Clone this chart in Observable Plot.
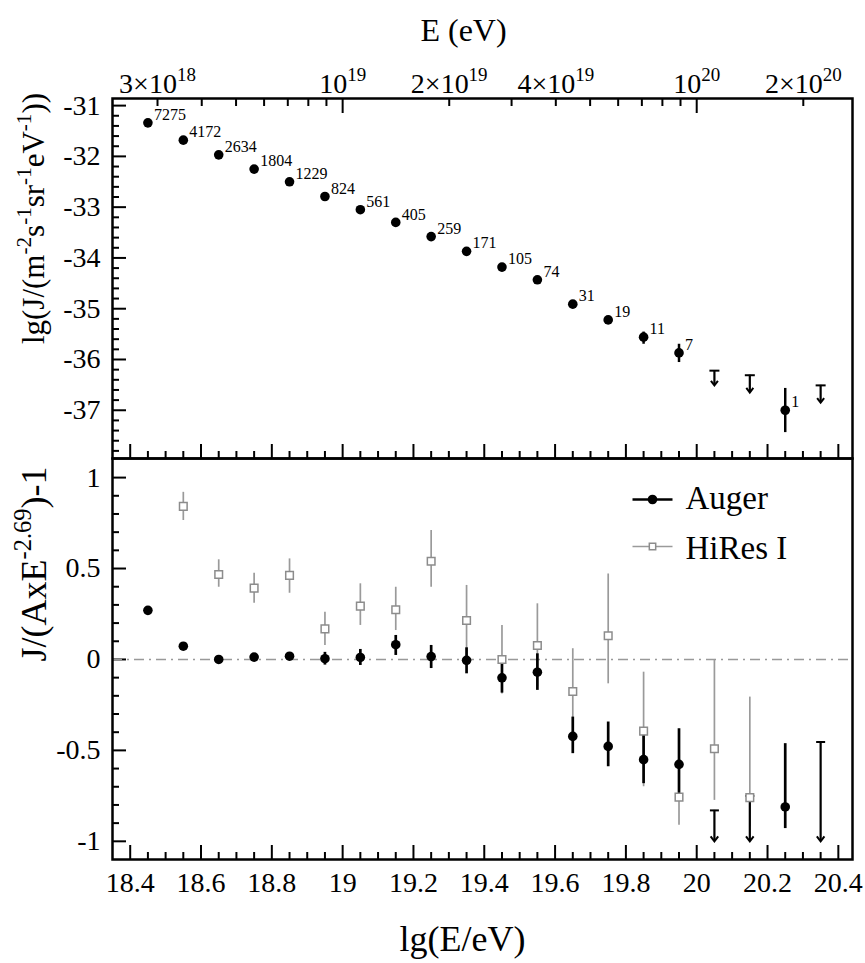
<!DOCTYPE html>
<html><head><meta charset="utf-8">
<script src="https://cdn.jsdelivr.net/npm/d3@7"></script>
<script src="https://cdn.jsdelivr.net/npm/@observablehq/plot@0.6"></script>
<style>
body{margin:0;background:#fff;}
#chart{width:865px;height:963px;overflow:hidden;}
#chart svg{display:block;}
</style></head><body><div id="chart"></div>
<script>
const FONT = '"Liberation Serif", serif';

// ---------- data ----------
const lgEnergy = [18.45,18.55,18.65,18.75,18.85,18.95,19.05,19.15,19.25,19.35,19.45,19.55,19.65,19.75,19.85,19.95,20.05,20.15,20.25,20.35];

// top panel: lg J
const augerFluxLg = [-31.34,-31.68,-31.97,-32.25,-32.50,-32.79,-33.05,-33.30,-33.58,-33.87,-34.18,-34.43,-34.91,-35.22,-35.56,-35.87,null,null,-37.00,null];
const augerFluxLo = [null,null,null,null,null,null,null,null,null,null,null,null,null,null,-35.70,-36.06,null,null,-37.44,null];
const augerFluxHi = [null,null,null,null,null,null,null,null,null,null,null,null,null,null,-35.46,-35.70,null,null,-36.57,null];
const augerCounts = ["7275","4172","2634","1804","1229","824","561","405","259","171","105","74","31","19","11","7",null,null,"1",null];
const fluxLimitCap = [null,null,null,null,null,null,null,null,null,null,null,null,null,null,null,null,-36.22,-36.31,null,-36.51];
const fluxLimitTip = [null,null,null,null,null,null,null,null,null,null,null,null,null,null,null,null,-36.51,-36.65,null,-36.85];

// bottom panel: J/(A E^-2.69) - 1
const augerRatio   = [0.27,0.073,0.0,0.013,0.018,0.004,0.011,0.081,0.016,-0.005,-0.101,-0.07,-0.423,-0.478,-0.551,-0.577,null,null,-0.811,null];
const augerRatioLo = [null,null,null,null,null,-0.031,-0.033,0.022,-0.05,-0.079,-0.185,-0.17,-0.518,-0.59,-0.683,-0.738,null,null,-0.93,null];
const augerRatioHi = [null,null,null,null,null,0.039,0.055,0.132,0.077,0.064,-0.015,0.031,-0.317,-0.344,-0.38,-0.381,null,null,-0.463,null];
const augerLimitCap = [null,null,null,null,null,null,null,null,null,null,null,null,null,null,null,null,-0.83,-0.75,null,-0.454];
const augerLimitTip = [null,null,null,null,null,null,null,null,null,null,null,null,null,null,null,null,-1.0,-1.0,null,-1.0];
const hiresRatio   = [null,0.842,0.467,0.392,0.462,0.168,0.293,0.273,0.54,0.214,0.0,0.077,-0.176,0.13,-0.394,-0.757,-0.491,-0.76,null,null];
const hiresRatioLo = [null,0.764,0.397,0.309,0.364,0.077,0.187,0.159,0.397,-0.005,-0.19,-0.15,-0.41,-0.134,-0.70,-0.912,-0.775,-0.92,null,null];
const hiresRatioHi = [null,0.919,0.548,0.474,0.553,0.26,0.416,0.397,0.709,0.407,0.187,0.306,0.059,0.47,-0.07,-0.6,0.0,-0.207,null,null];

// axes / ticks
const lgTicksMajor = [18.4,18.6,18.8,19,19.2,19.4,19.6,19.8,20,20.2,20.4];
const lgTicksMinor = d3.range(18.45, 20.42, 0.05).map(v => +v.toFixed(2)).filter(v => !lgTicksMajor.some(m => Math.abs(m - v) < 1e-6));
const energyLabelValues = [3e18, 1e19, 2e19, 4e19, 1e20, 2e20];
const energyLabels = ["3×10^{18}", "10^{19}", "2×10^{19}", "4×10^{19}", "10^{20}", "2×10^{20}"];
const energyMajor = [1e19, 1e20];
const energyMinor = [3e18,4e18,5e18,6e18,7e18,8e18,9e18,2e19,3e19,4e19,5e19,6e19,7e19,8e19,9e19,2e20];
const fluxTicksMajor = [-37,-36,-35,-34,-33,-32,-31];
const fluxTicksMinor = d3.range(-37.8, -30.95, 0.2).map(v => +v.toFixed(1)).filter(v => !Number.isInteger(v));
const ratioTicksMajor = [-1,-0.5,0,0.5,1];
const ratioTicksMinor = d3.range(-1.0, 1.01, 0.1).map(v => +v.toFixed(1)).filter(v => !ratioTicksMajor.includes(v));

const titleTop = "E (eV)";
const titleBottom = "lg(E/eV)";
const yTitleTop = "lg(J/(m^{-2}s^{-1}sr^{-1}eV^{-1}))";
const yTitleBottom = "J/(AxE^{-2.69})-1";
const legendNames = ["Auger", "HiRes I"];

// ---------- rows ----------
const idx = d3.range(lgEnergy.length);
const fluxPts = idx.filter(i => augerFluxLg[i] != null).map(i => ({x: lgEnergy[i], y: augerFluxLg[i], n: augerCounts[i]}));
const fluxErr = idx.filter(i => augerFluxLo[i] != null).map(i => ({x: lgEnergy[i], lo: augerFluxLo[i], hi: augerFluxHi[i]}));
const fluxLim = idx.filter(i => fluxLimitCap[i] != null).map(i => ({x: lgEnergy[i], cap: fluxLimitCap[i], tip: fluxLimitTip[i]}));
const augPts = idx.filter(i => augerRatio[i] != null).map(i => ({x: lgEnergy[i], y: augerRatio[i]}));
const augErr = idx.filter(i => augerRatioLo[i] != null).map(i => ({x: lgEnergy[i], lo: augerRatioLo[i], hi: augerRatioHi[i]}));
const augLim = idx.filter(i => augerLimitCap[i] != null).map(i => ({x: lgEnergy[i], cap: augerLimitCap[i], tip: augerLimitTip[i]}));
const hiPts = idx.filter(i => hiresRatio[i] != null).map(i => ({x: lgEnergy[i], y: hiresRatio[i], lo: hiresRatioLo[i], hi: hiresRatioHi[i]}));

// ---------- symbols ----------
const hline = {draw(ctx, size) { const r = Math.sqrt(size / Math.PI); ctx.moveTo(-r, 0); ctx.lineTo(r, 0); }};
const chevron = {draw(ctx, size) { const r = Math.sqrt(size / Math.PI); ctx.moveTo(-r, -r * 1.3); ctx.lineTo(0, 0); ctx.lineTo(r, -r * 1.3); }};

const W = 865, ML = 112, MR = 13;
const xDomain = [18.35, 20.44];
const TICK = 2, MAJ = -14, MIN = -7;
const plotStyle = {fontFamily: FONT, fontSize: "28px", color: "black", background: "white", overflow: "visible"};
const T = {fontFamily: FONT};
const C = {fontFamily: FONT, textAnchor: "middle", lineAnchor: "middle"};

const topPlot = Plot.plot({
  width: W, height: 458, marginTop: 98, marginBottom: 0, marginLeft: ML, marginRight: MR,
  style: plotStyle,
  x: {domain: xDomain, axis: null},
  y: {domain: [-37.95, -30.86], axis: null},
  marks: [
    Plot.axisX(lgTicksMajor, {anchor: "bottom", tickSize: MAJ, fill: "none", strokeWidth: TICK, label: null}),
    Plot.axisX(lgTicksMinor, {anchor: "bottom", tickSize: MIN, fill: "none", strokeWidth: TICK, label: null}),
    Plot.axisX(energyMajor.map(Math.log10), {anchor: "top", tickSize: MAJ, fill: "none", strokeWidth: TICK, label: null}),
    Plot.axisX(energyMinor.map(Math.log10), {anchor: "top", tickSize: MIN, fill: "none", strokeWidth: TICK, label: null}),
    Plot.axisX(energyLabelValues.map(Math.log10), {...T, anchor: "top", tickSize: 0, tickPadding: 6, label: null, fontSize: 28,
      tickFormat: (d) => energyLabels[energyLabelValues.map(Math.log10).indexOf(d)]}),
    Plot.axisY(fluxTicksMajor, {anchor: "left", tickSize: MAJ, fill: "none", strokeWidth: TICK, label: null}),
    Plot.axisY(fluxTicksMinor, {anchor: "left", tickSize: MIN, fill: "none", strokeWidth: TICK, label: null}),
    Plot.axisY(fluxTicksMajor, {...T, anchor: "left", tickSize: 0, tickPadding: 12, label: null, fontSize: 28, tickFormat: d => String(d)}),
    Plot.frame({strokeWidth: 2.5}),
    Plot.ruleX(fluxErr, {x: "x", y1: "lo", y2: "hi", stroke: "black", strokeWidth: 2.5}),
    Plot.ruleX(fluxLim, {x: "x", y1: "cap", y2: "tip", stroke: "black", strokeWidth: 2.2}),
    Plot.dot(fluxLim, {x: "x", y: "cap", symbol: hline, r: 5, stroke: "black", fill: "none", strokeWidth: 2}),
    Plot.dot(fluxLim, {x: "x", y: "tip", symbol: chevron, r: 3.5, stroke: "black", fill: "none", strokeWidth: 2}),
    Plot.dot(fluxPts, {x: "x", y: "y", r: 4.8, fill: "black", stroke: "none"}),
    Plot.text(fluxPts, {...T, x: "x", y: "y", text: "n", dx: 6, dy: -8, textAnchor: "start", fontSize: 16}),
    Plot.text([titleTop], {...C, frameAnchor: "top", text: d => d, dx: -19, dy: -68, fontSize: 32}),
    Plot.text([yTitleTop], {...C, frameAnchor: "left", text: d => d, rotate: -90, dx: -78, dy: -60, fontSize: 31})
  ]
});

const bottomPlot = Plot.plot({
  width: W, height: 505, marginTop: 0, marginBottom: 104, marginLeft: ML, marginRight: MR,
  style: plotStyle,
  x: {domain: xDomain, axis: null},
  y: {domain: [-1.1, 1.105], axis: null},
  marks: [
    Plot.axisX(lgTicksMajor, {anchor: "bottom", tickSize: MAJ, fill: "none", strokeWidth: TICK, label: null}),
    Plot.axisX(lgTicksMinor, {anchor: "bottom", tickSize: MIN, fill: "none", strokeWidth: TICK, label: null}),
    Plot.axisX(lgTicksMajor, {...T, anchor: "bottom", tickSize: 0, tickPadding: 13, label: null, fontSize: 28, tickFormat: d => String(d)}),
    Plot.axisY(ratioTicksMajor, {anchor: "left", tickSize: MAJ, fill: "none", strokeWidth: TICK, label: null}),
    Plot.axisY(ratioTicksMinor, {anchor: "left", tickSize: MIN, fill: "none", strokeWidth: TICK, label: null}),
    Plot.axisY(ratioTicksMajor, {...T, anchor: "left", tickSize: 0, tickPadding: 12, label: null, fontSize: 28, tickFormat: d => String(d)}),
    Plot.ruleY([0], {stroke: "#999", strokeWidth: 1.6, strokeDasharray: "10,5,2,5"}),
    Plot.frame({strokeWidth: 2.5}),
    Plot.ruleX(hiPts, {x: "x", y1: "lo", y2: "hi", stroke: "#9a9a9a", strokeWidth: 1.7}),
    Plot.ruleX(augErr, {x: "x", y1: "lo", y2: "hi", stroke: "black", strokeWidth: 2.7}),
    Plot.ruleX(augLim, {x: "x", y1: "cap", y2: "tip", stroke: "black", strokeWidth: 2.2}),
    Plot.dot(augLim, {x: "x", y: "cap", symbol: hline, r: 4.5, stroke: "black", fill: "none", strokeWidth: 2}),
    Plot.dot(augLim, {x: "x", y: "tip", symbol: chevron, r: 3.8, stroke: "black", fill: "none", strokeWidth: 2}),
    Plot.dot(augPts, {x: "x", y: "y", r: 4.8, fill: "black", stroke: "none"}),
    Plot.dot(hiPts, {x: "x", y: "y", symbol: "square", r: 4.3, fill: "white", stroke: "#8c8c8c", strokeWidth: 1.5}),
    // legend
    Plot.dot([0], {frameAnchor: "top-left", dx: 540, dy: 41, symbol: hline, r: 20, stroke: "black", fill: "none", strokeWidth: 2.5}),
    Plot.dot([0], {frameAnchor: "top-left", dx: 540, dy: 41, r: 4.8, fill: "black", stroke: "none"}),
    Plot.text([legendNames[0]], {...T, frameAnchor: "top-left", text: d => d, dx: 573, dy: 40, textAnchor: "start", lineAnchor: "middle", fontSize: 33}),
    Plot.dot([0], {frameAnchor: "top-left", dx: 540, dy: 88, symbol: hline, r: 20, stroke: "#9a9a9a", fill: "none", strokeWidth: 1.5}),
    Plot.dot([0], {frameAnchor: "top-left", dx: 540, dy: 88, symbol: "square", r: 3.6, fill: "white", stroke: "#8c8c8c", strokeWidth: 1.5}),
    Plot.text([legendNames[1]], {...T, frameAnchor: "top-left", text: d => d, dx: 573, dy: 90, textAnchor: "start", lineAnchor: "middle", fontSize: 33}),
    Plot.text([titleBottom], {...C, frameAnchor: "bottom", text: d => d, dx: -20, dy: 80, fontSize: 36}),
    Plot.text([yTitleBottom], {...C, frameAnchor: "left", text: d => d, rotate: -90, dx: -78, dy: -95, fontSize: 36})
  ]
});

const chart = document.getElementById("chart");
chart.appendChild(topPlot);
chart.appendChild(bottomPlot);

function supify(svg) {
  d3.select(svg).selectAll("text").each(function() {
    this.style.setProperty("font-family", FONT);
    const t = this.textContent;
    if (!t || !t.includes("^{")) return;
    const fs = parseFloat(getComputedStyle(this).fontSize) || 28;
    const parts = t.split(/\^\{([^}]*)\}/);
    while (this.firstChild) this.removeChild(this.firstChild);
    let shift = 0;
    parts.forEach((p, i) => {
      if (!p) return;
      const ts = document.createElementNS("http://www.w3.org/2000/svg", "tspan");
      ts.textContent = p;
      if (i % 2 === 1) {
        ts.setAttribute("font-size", (fs * 0.68).toFixed(1));
        ts.setAttribute("dy", (-fs * 0.42 - shift).toFixed(1));
        shift = -fs * 0.42;
      } else if (shift) {
        ts.setAttribute("dy", (-shift).toFixed(1));
        shift = 0;
      }
      this.appendChild(ts);
    });
  });
}
supify(topPlot);
supify(bottomPlot);
</script>
</body></html>
